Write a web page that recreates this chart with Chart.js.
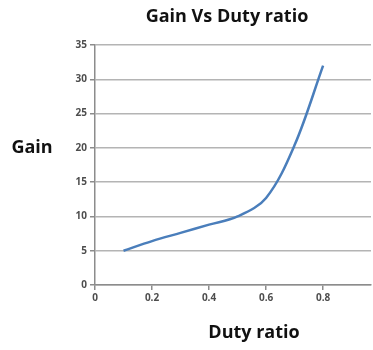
<!DOCTYPE html>
<html>
<head>
<meta charset="utf-8">
<script src="https://cdn.jsdelivr.net/npm/chart.js@4.4.1/dist/chart.umd.min.js"></script>
<style>
  html, body { margin: 0; padding: 0; background: #ffffff; overflow: hidden; }
  #wrap { position: relative; width: 373px; height: 350px; }
</style>
</head>
<body>
<div id="wrap"><canvas id="chart" width="373" height="350"></canvas></div>
<script>
// Gain of the converter as the duty ratio is swept
const dutyRatio = [0.1, 0.2, 0.3, 0.4, 0.5, 0.6, 0.7, 0.8];
const gain      = [5.0, 6.4, 7.6, 8.8, 10.0, 12.7, 20.4, 32.0];

const xTickValues = [0, 0.2, 0.4, 0.6, 0.8];
const yTickValues = [0, 5, 10, 15, 20, 25, 30, 35];

const chartTitle = 'Gain Vs Duty ratio';
const yTitle = 'Gain';
const xTitle = 'Duty ratio';

const points = dutyRatio.map((d, i) => ({ x: d, y: gain[i] }));

// Titles drawn as free-floating text, placed relative to the plot area
const freeTitles = {
  id: 'freeTitles',
  afterDraw(chart) {
    const { ctx } = chart;
    ctx.save();
    ctx.fillStyle = '#111111';
    ctx.textBaseline = 'middle';
    ctx.textAlign = 'center';
    ctx.font = 'bold 18px "Open Sans"';
    ctx.fillText(chartTitle, 227, 17);
    ctx.fillText(yTitle, 32, 148);
    ctx.fillText(xTitle, 254, 333);
    ctx.restore();
  }
};

new Chart(document.getElementById('chart'), {
  type: 'scatter',
  data: {
    datasets: [{
      data: points,
      showLine: true,
      borderColor: '#4a7ebb',
      borderWidth: 2.5,
      pointRadius: 0,
      tension: 0.35,
      fill: false
    }]
  },
  options: {
    responsive: false,
    animation: false,
    layout: { padding: { top: 45, right: 2, left: 0, bottom: 0 } },
    plugins: { legend: { display: false }, tooltip: { enabled: false }, title: { display: false } },
    scales: {
      x: {
        type: 'linear',
        min: 0,
        max: 0.968,
        afterBuildTicks(scale) { scale.ticks = xTickValues.map(v => ({ value: v })); },
        afterFit(scale) { scale.height = 65; },
        ticks: {
          padding: 2,
          color: '#4d4d4d',
          font: { family: '"Open Sans"', size: 10, weight: 'bold' },
          callback: v => String(v)
        },
        grid: { drawOnChartArea: false, drawTicks: true, tickLength: 5, color: '#8c8c8c', lineWidth: 1.5 },
        border: { color: '#8c8c8c', width: 1.5 }
      },
      y: {
        type: 'linear',
        min: 0,
        max: 35,
        afterBuildTicks(scale) { scale.ticks = yTickValues.map(v => ({ value: v })); },
        afterFit(scale) { scale.width = 95; },
        ticks: {
          padding: 3,
          color: '#4d4d4d',
          font: { family: '"Open Sans"', size: 10, weight: 'bold' }
        },
        grid: { color: '#b4b4b4', lineWidth: 1.5, tickLength: 5, tickColor: '#8c8c8c' },
        border: { color: '#8c8c8c', width: 1.5 }
      }
    }
  },
  plugins: [freeTitles]
});
</script>
</body>
</html>
